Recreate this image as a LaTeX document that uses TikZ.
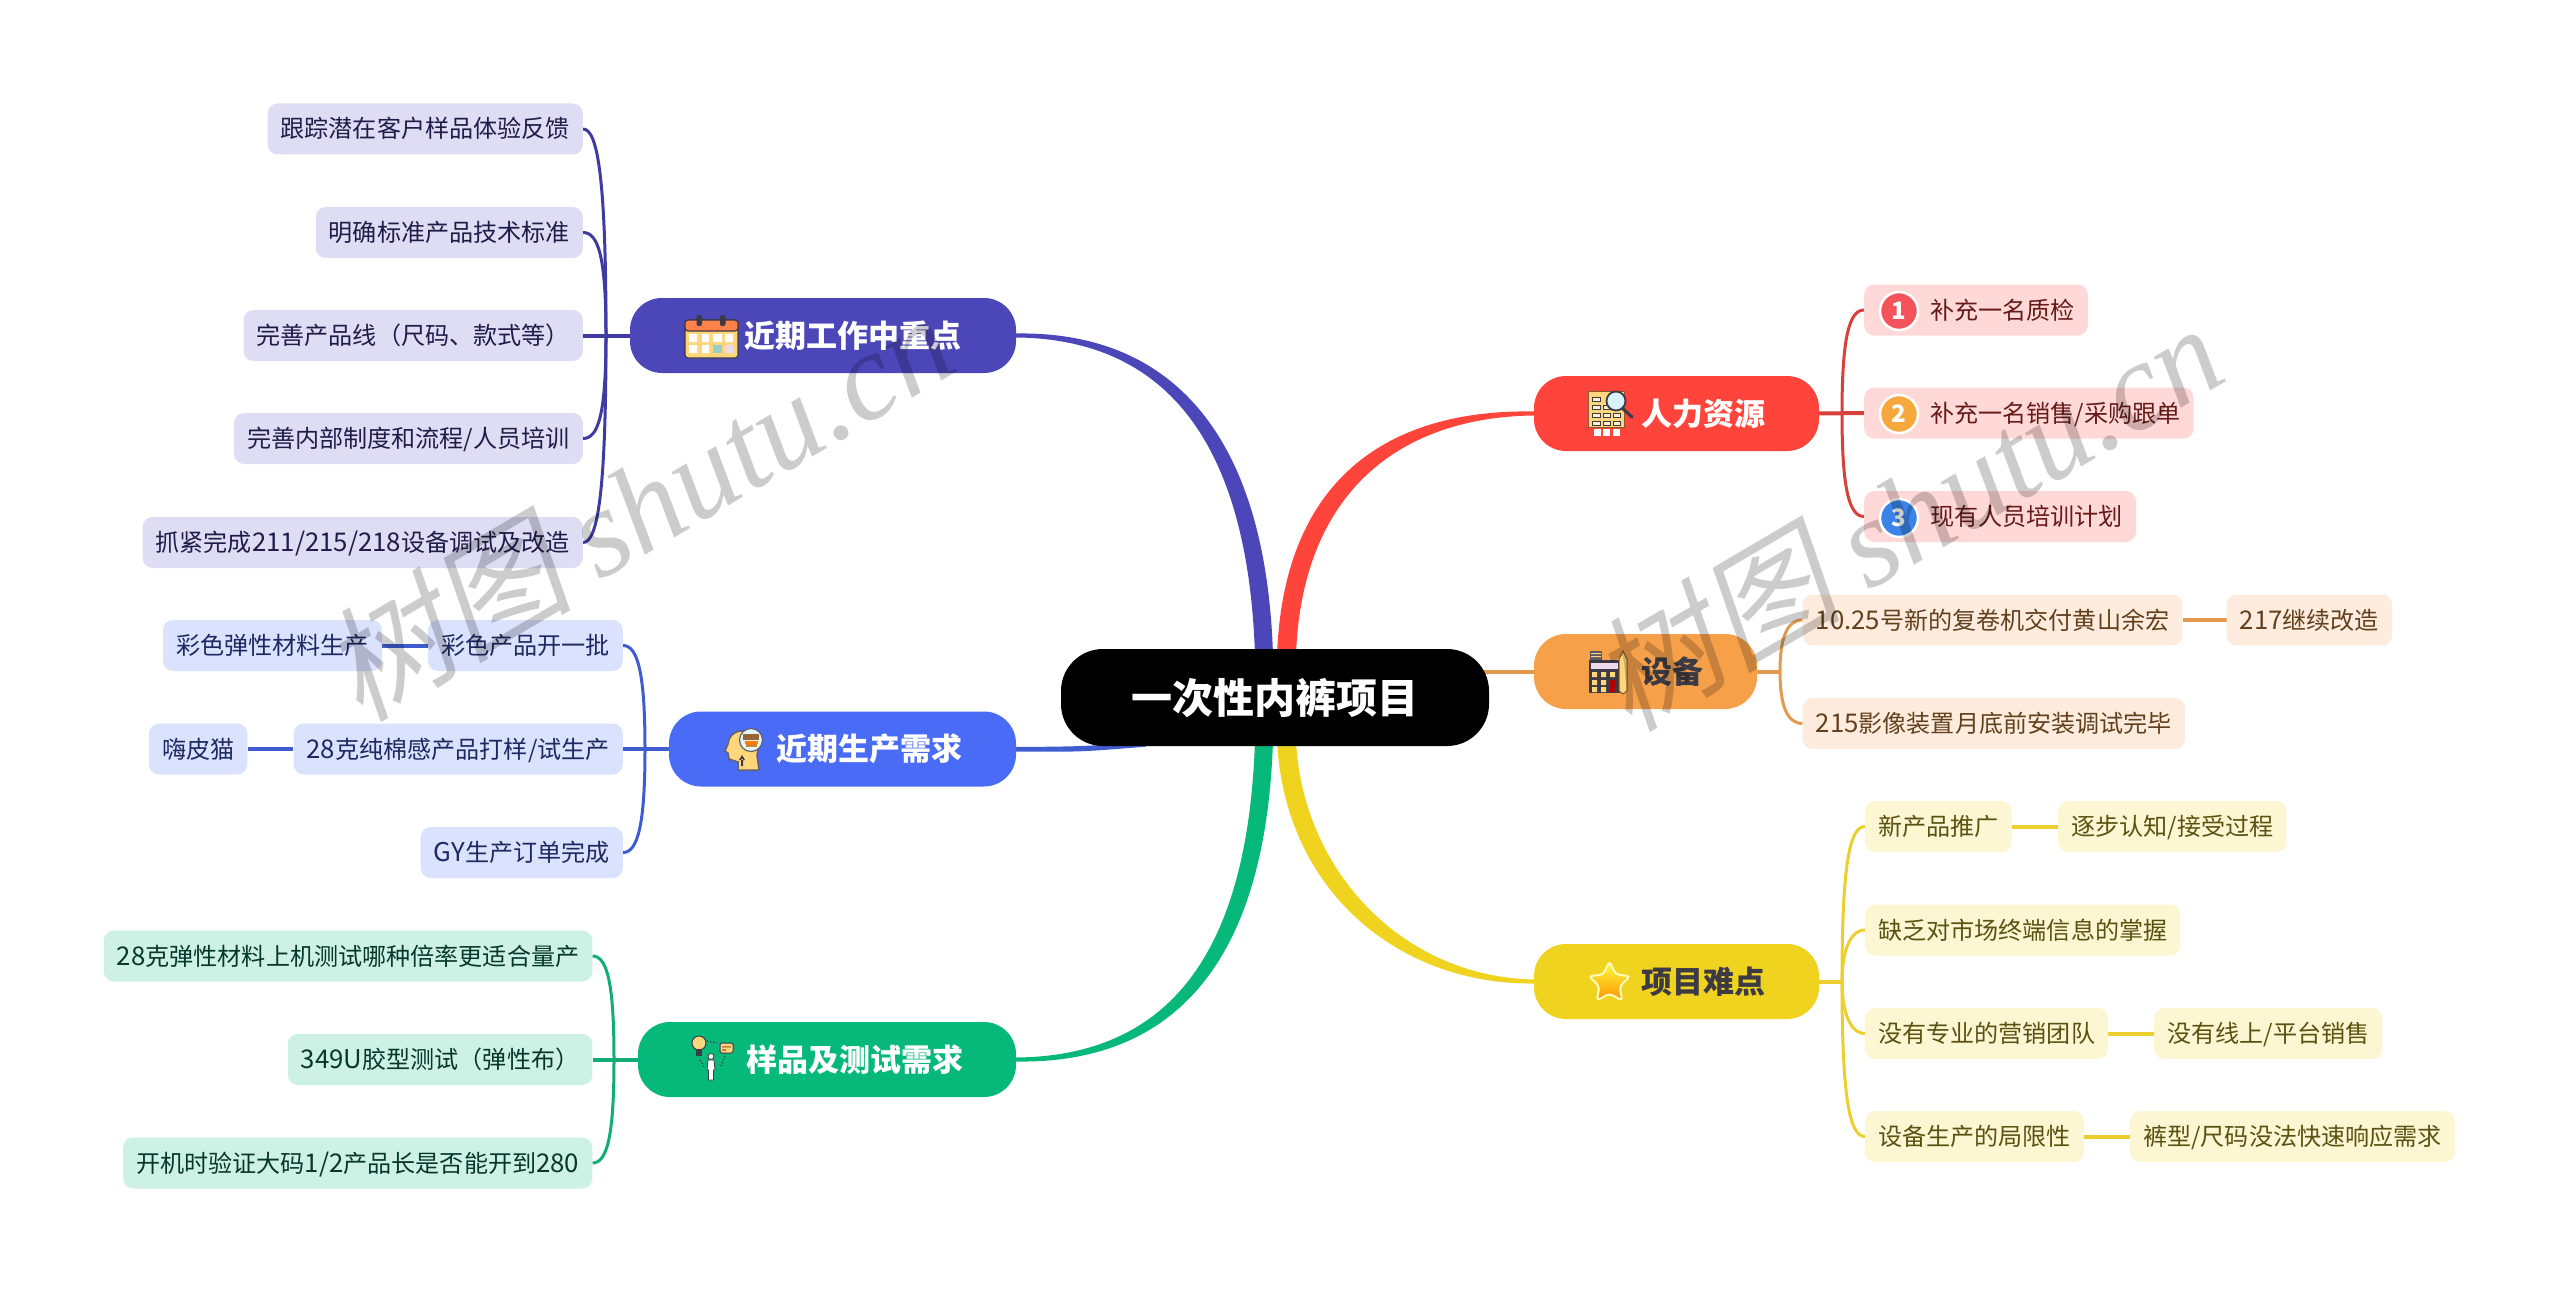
\documentclass[tikz,border=0pt]{standalone}
\usepackage{fontspec}
\setmainfont{Noto Sans CJK SC}
\newfontfamily\markserif{Liberation Serif}
\newfontfamily\markcjk[FakeSlant=0.2]{Noto Sans CJK SC}
\newfontfamily\digitfont[Scale=1.07]{Noto Sans CJK SC}
\newcommand{\digits}[1]{{\digitfont #1}}
\usepackage{xcolor}
\usetikzlibrary{shapes.geometric, backgrounds}
\definecolor{workMainC}{HTML}{4B47B9}
\definecolor{workPale}{HTML}{DEDDF3}
\definecolor{workEdge}{HTML}{3F3BA3}
\definecolor{workInk}{HTML}{1E1D4A}
\definecolor{prodMainC}{HTML}{4A6BF5}
\definecolor{prodPale}{HTML}{DBE2FD}
\definecolor{prodEdge}{HTML}{3F5CD0}
\definecolor{prodInk}{HTML}{1D2A62}
\definecolor{testMainC}{HTML}{06B87A}
\definecolor{testPale}{HTML}{CDF1E4}
\definecolor{testEdge}{HTML}{12AD75}
\definecolor{testInk}{HTML}{06382A}
\definecolor{staffMainC}{HTML}{FF443C}
\definecolor{staffPale}{HTML}{FFD9D7}
\definecolor{staffEdge}{HTML}{D8403A}
\definecolor{staffInk}{HTML}{661B18}
\definecolor{gearMainC}{HTML}{F7A04A}
\definecolor{gearPale}{HTML}{FDECDD}
\definecolor{gearEdge}{HTML}{E39A4E}
\definecolor{gearInk}{HTML}{63401D}
\definecolor{hardMainC}{HTML}{F0D31F}
\definecolor{hardPale}{HTML}{FCF6D3}
\definecolor{hardEdge}{HTML}{ECCF2F}
\definecolor{hardInk}{HTML}{5C5210}
\definecolor{iconDark}{HTML}{3C3A45}
\definecolor{iconSand}{HTML}{FFD67C}
\definecolor{badgeRed}{HTML}{F4535B}
\definecolor{badgeOrange}{HTML}{F6A83C}
\definecolor{badgeBlue}{HTML}{3A83E8}
\tikzstyle{subnode} = [rectangle, rounded corners=10pt, minimum height=51pt, inner xsep=13pt, inner ysep=0pt, text height=21pt, text depth=3pt, font=\fontsize{24.1}{28}\selectfont]
\tikzstyle{mainnode} = [rectangle, rounded corners=32pt, minimum height=75pt, inner xsep=0pt, inner ysep=0pt, text height=27pt, text depth=4pt, font=\fontsize{31}{36}\selectfont\bfseries]
\tikzstyle{centernode} = [rectangle, rounded corners=42pt, fill=black, text=white, minimum width=428pt, minimum height=97pt, text height=36pt, text depth=5pt, font=\fontsize{41}{46}\selectfont\bfseries]
\tikzstyle{badge} = [circle, draw=white, line width=2.5pt, minimum size=38pt, inner sep=0pt, text=white, font=\fontsize{24}{24}\selectfont\bfseries]
\tikzstyle{workSub} = [subnode, fill=workPale, text=workInk]
\tikzstyle{prodSub} = [subnode, fill=prodPale, text=prodInk]
\tikzstyle{testSub} = [subnode, fill=testPale, text=testInk]
\tikzstyle{staffSub} = [subnode, fill=staffPale, text=staffInk]
\tikzstyle{gearSub} = [subnode, fill=gearPale, text=gearInk]
\tikzstyle{hardSub} = [subnode, fill=hardPale, text=hardInk]
\tikzstyle{workLine} = [draw=workEdge, line width=3pt]
\tikzstyle{prodLine} = [draw=prodEdge, line width=3pt]
\tikzstyle{testLine} = [draw=testEdge, line width=3pt]
\tikzstyle{staffLine} = [draw=staffEdge, line width=3pt]
\tikzstyle{gearLine} = [draw=gearEdge, line width=3pt]
\tikzstyle{hardLine} = [draw=hardEdge, line width=3pt]
\tikzstyle{stem} = [line width=4pt]
\tikzstyle{watermark} = [rotate=30.5, text=black, text opacity=0.2, font=\fontsize{125}{135}\selectfont]

\begin{document}
\begin{tikzpicture}[x=1pt, y=-1pt]
    \useasboundingbox (0,0) rectangle (2560,1292);

    \node (project) [centernode] at (1275,697.5) {一次性内裤项目};

    \node (workMain) [mainnode, fill=workMainC, text=white, minimum width=386pt] at (823,335.5) {\hspace*{60pt}近期工作中重点};
    \node (workTrack) [workSub, anchor=east] at (583,129) {跟踪潜在客户样品体验反馈};
    \node (workSpec) [workSub, anchor=east] at (583,232.5) {明确标准产品技术标准};
    \node (workRange) [workSub, anchor=east] at (583,335.5) {完善产品线（尺码、款式等）};
    \node (workRule) [workSub, anchor=east] at (583,438.5) {完善内部制度和流程/人员培训};
    \node (workTune) [workSub, anchor=east] at (583,542.5) {抓紧完成\digits{211/215/218}设备调试及改造};

    \node (prodMain) [mainnode, fill=prodMainC, text=white, minimum width=347pt] at (842.5,749) {\hspace*{54pt}近期生产需求};
    \node (prodColor) [prodSub, anchor=east] at (623,645.5) {彩色产品开一批};
    \node (prodElastic) [prodSub, anchor=east] at (382,645.5) {彩色弹性材料生产};
    \node (prodCotton) [prodSub, anchor=east] at (623,749) {\digits{28}克纯棉感产品打样/试生产};
    \node (prodHappy) [prodSub, anchor=east] at (247.5,749) {嗨皮猫};
    \node (prodOrder) [prodSub, anchor=east] at (623,852.5) {\digits{GY}生产订单完成};

    \node (testMain) [mainnode, fill=testMainC, text=white, minimum width=378pt] at (827,1059.5) {\hspace*{56pt}样品及测试需求};
    \node (testRate) [testSub, anchor=east] at (592.5,956) {\digits{28}克弹性材料上机测试哪种倍率更适合量产};
    \node (testGlue) [testSub, anchor=east] at (592.5,1059.5) {\digits{349U}胶型测试（弹性布）};
    \node (testSize) [testSub, anchor=east] at (592.5,1163) {开机时验证大码\digits{1/2}产品长是否能开到\digits{280}};

    \node (staffMain) [mainnode, fill=staffMainC, text=white, minimum width=285pt] at (1676.5,413.5) {\hspace*{54pt}人力资源};
    \node (staffCheck) [staffSub, anchor=west] at (1864,310) {\hspace*{53pt}补充一名质检};
    \node (staffSale) [staffSub, anchor=west] at (1864,413) {\hspace*{53pt}补充一名销售/采购跟单};
    \node (staffTrain) [staffSub, anchor=west] at (1864,516.5) {\hspace*{53pt}现有人员培训计划};
    \node (badgeOne) [badge, fill=badgeRed] at (1899,311) {1};
    \node (badgeTwo) [badge, fill=badgeOrange] at (1899,414) {2};
    \node (badgeThree) [badge, fill=badgeBlue] at (1899,518) {3};

    \node (gearMain) [mainnode, fill=gearMainC, text=iconDark, minimum width=223pt] at (1645.5,671.5) {\hspace*{54pt}设备};
    \node (gearRoll) [gearSub, anchor=west] at (1802.5,620) {\digits{10.25}号新的复卷机交付黄山余宏};
    \node (gearNext) [gearSub, anchor=west] at (2226.5,620) {\digits{217}继续改造};
    \node (gearImage) [gearSub, anchor=west] at (1802.5,723.5) {\digits{215}影像装置月底前安装调试完毕};

    \node (hardMain) [mainnode, fill=hardMainC, text=iconDark, minimum width=285pt] at (1676.5,981.5) {\hspace*{54pt}项目难点};
    \node (hardPush) [hardSub, anchor=west] at (1865,826.5) {新产品推广};
    \node (hardLearn) [hardSub, anchor=west] at (2058,826.5) {逐步认知/接受过程};
    \node (hardInfo) [hardSub, anchor=west] at (1865,930) {缺乏对市场终端信息的掌握};
    \node (hardTeam) [hardSub, anchor=west] at (1865,1033.5) {没有专业的营销团队};
    \node (hardOnline) [hardSub, anchor=west] at (2154,1033.5) {没有线上/平台销售};
    \node (hardLimit) [hardSub, anchor=west] at (1865,1136.5) {设备生产的局限性};
    \node (hardFast) [hardSub, anchor=west] at (2130,1136.5) {裤型/尺码没法快速响应需求};

    \coordinate (workTrunk) at (606,335.5);
    \coordinate (prodTrunk) at (645,749);
    \coordinate (testTrunk) at (614,1059.5);
    \coordinate (staffTrunk) at (1842,413.5);
    \coordinate (gearTrunk) at (1780,671.5);
    \coordinate (hardTrunk) at (1842,981.5);

    \begin{scope}[on background layer]
    \fill [workMainC] ([xshift=-20pt,yshift=-6pt]project.north) .. controls (1248,445) and (1168,339) .. ([yshift=-2pt]workMain.east) -- ([yshift=2pt]workMain.east) .. controls (1172,331) and (1266,435) .. ([xshift=-2pt,yshift=-6pt]project.north) -- cycle;
    \fill [staffMainC] ([xshift=2pt,yshift=-6pt]project.north) .. controls (1284,470) and (1398,409) .. ([yshift=2pt]staffMain.west) -- ([yshift=-2pt]staffMain.west) .. controls (1402,417) and (1302,490) .. ([xshift=21pt,yshift=-6pt]project.north) -- cycle;
    \fill [testMainC] ([xshift=-2pt,yshift=6pt]project.south) .. controls (1266,965) and (1172,1064) .. ([yshift=-2pt]testMain.east) -- ([yshift=2pt]testMain.east) .. controls (1168,1056) and (1248,955) .. ([xshift=-20pt,yshift=6pt]project.south) -- cycle;
    \fill [hardMainC] ([xshift=2pt,yshift=6pt]project.south) .. controls (1284,890) and (1398,985) .. ([yshift=-2pt]hardMain.west) -- ([yshift=2pt]hardMain.west) .. controls (1402,977) and (1302,870) .. ([xshift=21pt,yshift=6pt]project.south) -- cycle;
    \fill [prodEdge] ([yshift=2pt]prodMain.east) .. controls (1080,746.5) .. ([xshift=85pt,yshift=4pt]project.south west) -- ([xshift=85pt,yshift=-.5pt]project.south west) .. controls (1080,752) .. ([yshift=-2.5pt]prodMain.east) -- cycle;
    \draw [gearEdge, stem] (gearMain.west) -- ([xshift=-60pt]gearMain.west);

    \draw [workLine] (workTrack.east) .. controls +(15,0) and +(0,-155) .. (workTrunk);
    \draw [workLine] (workSpec.east) .. controls +(15,0) and +(0,-80) .. (workTrunk);
    \draw [workLine] (workRule.east) .. controls +(15,0) and +(0,80) .. (workTrunk);
    \draw [workLine] (workTune.east) .. controls +(15,0) and +(0,155) .. (workTrunk);
    \draw [workEdge, stem] (workRange.east) -- (workMain.west);

    \draw [prodLine] (prodColor.east) .. controls +(15,0) and +(0,-75) .. (prodTrunk);
    \draw [prodLine] (prodOrder.east) .. controls +(15,0) and +(0,75) .. (prodTrunk);
    \draw [prodEdge, stem] (prodCotton.east) -- (prodMain.west);
    \draw [prodEdge, stem] (prodColor.west) -- (prodElastic.east);
    \draw [prodEdge, stem] (prodCotton.west) -- (prodHappy.east);

    \draw [testLine] (testRate.east) .. controls +(15,0) and +(0,-75) .. (testTrunk);
    \draw [testLine] (testSize.east) .. controls +(15,0) and +(0,75) .. (testTrunk);
    \draw [testEdge, stem] (testGlue.east) -- (testMain.west);

    \draw [staffLine] (staffCheck.west) .. controls +(-15,0) and +(0,-75) .. (staffTrunk);
    \draw [staffLine] (staffTrain.west) .. controls +(-15,0) and +(0,75) .. (staffTrunk);
    \draw [staffEdge, stem] (staffSale.west) -- (staffMain.east);

    \draw [gearLine] (gearRoll.west) .. controls +(-15,0) and +(0,-35) .. (gearTrunk);
    \draw [gearLine] (gearImage.west) .. controls +(-15,0) and +(0,35) .. (gearTrunk);
    \draw [gearEdge, stem] (gearMain.east) -- (gearTrunk);
    \draw [gearEdge, stem] (gearRoll.east) -- (gearNext.west);

    \draw [hardLine] (hardPush.west) .. controls +(-15,0) and +(0,-120) .. (hardTrunk);
    \draw [hardLine] (hardInfo.west) .. controls +(-15,0) and +(0,-30) .. (hardTrunk);
    \draw [hardLine] (hardTeam.west) .. controls +(-15,0) and +(0,30) .. (hardTrunk);
    \draw [hardLine] (hardLimit.west) .. controls +(-15,0) and +(0,120) .. (hardTrunk);
    \draw [hardEdge, stem] (hardMain.east) -- (hardTrunk);
    \draw [hardEdge, stem] (hardPush.east) -- (hardLearn.west);
    \draw [hardEdge, stem] (hardTeam.east) -- (hardOnline.west);
    \draw [hardEdge, stem] (hardLimit.east) -- (hardFast.west);
    \end{scope}

    \begin{scope}[shift={(660,280)}]
    \draw [iconDark, fill=iconSand, line width=1.2pt, rounded corners=3pt] (25,40) rectangle (78,78);
    \draw [iconDark, fill=orange!60!red!70!white, line width=1.2pt, rounded corners=3pt] (25,40) rectangle (78,51);
    \fill [iconDark, rounded corners=2pt] (36.5,35) rectangle (42,46) (60,35) rectangle (65.5,46);
    \fill [white] (29,54) rectangle (37,62) (42,54) rectangle (49,62) (53,54) rectangle (62,62) (65,54) rectangle (73,62) (29,65) rectangle (37,73) (42,65) rectangle (49,73);
    \fill [teal!40!white] (53,65) rectangle (62,73);
    \fill [violet!15!white] (65,65) rectangle (73,73);
    \end{scope}

    \begin{scope}[shift={(715,720)}]
    \draw [iconDark!80, fill=iconSand, line width=1.5pt] (23,50) -- (23,42) -- (14,39) -- (13,33) -- (10,31) -- (13,24) .. controls (14,14) and (22,10) .. (31,11) .. controls (40,12) and (45,25) .. (42,35) -- (44,50) -- cycle;
    \draw [iconDark!80, fill=cyan!12!white, line width=1.2pt] (36,20) circle (11.5);
    \fill [brown!80!black] (28,14) rectangle (44,20);
    \fill [orange] (30,21) rectangle (43,23.5);
    \fill [brown!60!orange] (31,24) rectangle (42,27);
    \fill [iconDark] (26,46) rectangle (28,39) (24,40) -- (30,40) -- (27,35) -- cycle;
    \end{scope}

    \begin{scope}[shift={(685,1030)}]
    \draw [iconDark, fill=iconSand, line width=1pt] (14,13) circle (7);
    \fill [iconDark] (11,19) rectangle (17,26);
    \draw [iconDark, fill=iconSand, line width=1pt, rounded corners=1.5pt] (35,13) rectangle (48,23);
    \fill [brown] (37,16) rectangle (46,17.5) (37,19) rectangle (41,21);
    \draw [iconDark, fill=white, line width=.8pt] (26,26.5) circle (3);
    \draw [iconDark, fill=white, line width=.8pt] (23,30) -- (29,30) -- (30,40) -- (28.5,40) -- (28.5,50) -- (23.5,50) -- (23.5,40) -- (22,40) -- cycle;
    \draw [iconDark, line width=1.2pt, dotted] (22,11) -- (32,13);
    \draw [iconDark, line width=1.2pt, dotted] (15,30) -- (19,37);
    \draw [iconDark, line width=1.2pt, dotted] (40,26) -- (36,36);
    \end{scope}

    \begin{scope}[shift={(1580,385)}]
    \fill [iconSand] (8,6) rectangle (44,42);
    \draw [brown!70!black, line width=1pt] (8,6) rectangle (44,42);
    \draw [iconDark, fill=iconSand!40!white, line width=.8pt] (12,12) rectangle (20,16) (12,20) rectangle (20,24) (23,20) rectangle (30,24) (12,28) rectangle (20,32) (23,28) rectangle (30,32) (33,28) rectangle (40,32) (12,36) rectangle (20,40) (23,36) rectangle (30,40) (33,36) rectangle (40,40);
    \draw [white, fill=white, line width=.5pt] (14,44) rectangle (20,50) (23,44) rectangle (29,50) (33,44) rectangle (39,50);
    \draw [iconDark, line width=3pt, line cap=round] (42,23) -- (52,32);
    \draw [iconDark, fill=cyan!15!white, line width=1.8pt] (36,16) circle (9.5);
    \end{scope}

    \begin{scope}[shift={(1580,645)}]
    \fill [iconDark!85] (10,6) rectangle (22,15);
    \fill [iconSand] (11,8) rectangle (21,9) (11,11) rectangle (21,12);
    \fill [iconDark] (9,15) rectangle (40,48);
    \fill [violet!15!white] (11,18) rectangle (38,24);
    \fill [iconSand] (12,27) rectangle (17,32) (21,27) rectangle (26,32) (30,27) rectangle (35,32) (12,35) rectangle (17,40) (21,35) rectangle (26,40) (12,42) rectangle (17,47) (21,42) rectangle (26,47);
    \fill [red!70!black] (30,35) rectangle (35,47);
    \draw [brown!70!black, fill=iconSand, line width=1pt] (43,6) -- (47,14) -- (47,46) -- (43,49) -- (39,46) -- (39,14) -- cycle;
    \end{scope}

    \node (iconStar) [star, star points=5, star point ratio=2.1, minimum size=44pt, inner sep=0pt, rounded corners=4pt, top color=yellow!75!white, bottom color=orange!85!yellow, draw=yellow!25!white, line width=2pt] at (1609.5,983) {};

    \node (markLeft) [watermark] at (637,505) {{\markcjk 树图} {\markserif\itshape shutu.cn}};
    \node (markRight) [watermark] at (1906,515) {{\markcjk 树图} {\markserif\itshape shutu.cn}};
\end{tikzpicture}
\end{document}
